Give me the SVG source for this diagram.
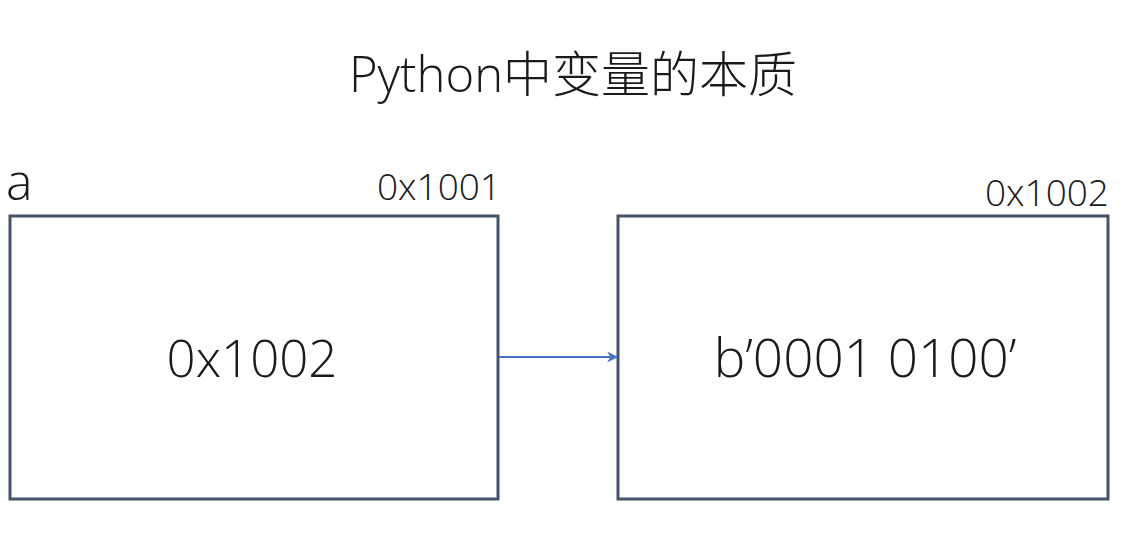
<svg xmlns="http://www.w3.org/2000/svg" width="1136" height="550" viewBox="0 0 1136 550">
<style>
text{font-family:"Open Sans","Noto Sans CJK SC",sans-serif;fill:#1a1a1a;font-weight:300}
.box{fill:#fff;stroke:#44546A;stroke-width:3}
.conn{stroke:#4472C4;stroke-width:2;fill:none}
</style>
<defs>
<marker id="arr" viewBox="0 0 10 10" refX="9" refY="5" markerWidth="11" markerHeight="11" markerUnits="userSpaceOnUse" orient="auto"><path d="M0,0 L10,5 L0,10 L3,5 Z" fill="#4472C4"/></marker>
</defs>
<rect width="1136" height="550" fill="#fff"/>
<text x="573" y="92" font-size="49" text-anchor="middle">Python中变量的本质</text>
<g id="node-a">
<rect class="box" x="10" y="216" width="488" height="283"/>
<text x="6" y="200" font-size="50">a</text>
<text x="501" y="200" font-size="37" text-anchor="end">0x1001</text>
<text x="252" y="377" font-size="51" text-anchor="middle">0x1002</text>
</g>
<g id="node-b">
<rect class="box" x="618" y="216" width="490" height="283"/>
<text x="1109" y="206" font-size="37" text-anchor="end">0x1002</text>
<text x="865" y="377" font-size="53" text-anchor="middle">b’0001 0100’</text>
</g>
<g id="connectors">
<line class="conn" x1="499" y1="357" x2="617" y2="357" marker-end="url(#arr)"/>
</g>
</svg>
